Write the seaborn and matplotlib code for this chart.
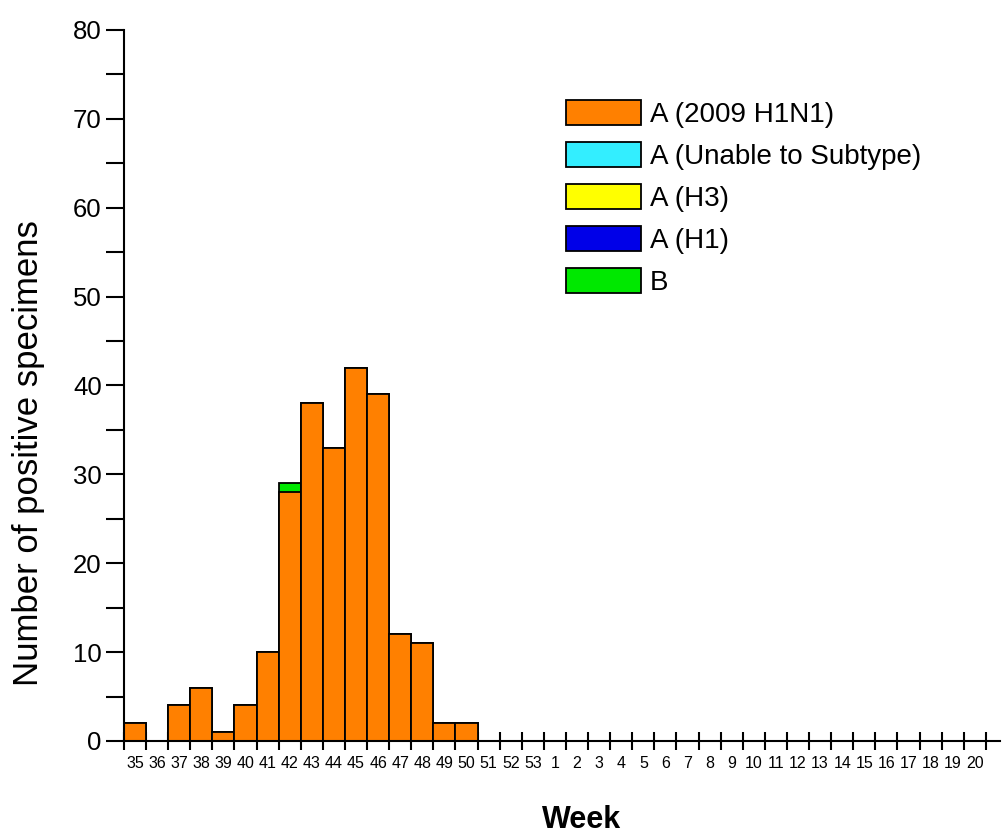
import numpy as np
import pandas as pd
import matplotlib.pyplot as plt
import seaborn as sns
from matplotlib.patches import Patch
from matplotlib.ticker import FixedLocator, MultipleLocator

# weekly counts of positive specimens, week 35 of 2009 to week 20 of 2010
weeks = [str(w) for w in range(35, 54)] + [str(w) for w in range(1, 21)]
h1n1 = [2, 0, 4, 6, 1, 4, 10, 28, 38, 33, 42, 39, 12, 11, 2, 2] + [0] * 23
unsubtyped = [0] * 39
h3 = [0] * 39
h1 = [0] * 39
flu_b = [0] * 7 + [1] + [0] * 31

legend_labels = ["A (2009 H1N1)", "A (Unable to Subtype)", "A (H3)", "A (H1)", "B"]
legend_colors = ["#FF8000", "#33EEFF", "#FFFF00", "#0000E8", "#00E800"]

data = pd.DataFrame({"Week": weeks, "H1N1": h1n1, "Unable": unsubtyped,
                     "H3": h3, "H1": h1, "B": flu_b})
data["Total"] = data[["H1N1", "Unable", "H3", "H1", "B"]].sum(axis=1)

sns.set_style("ticks")
plt.rcParams['font.family'] = ['Liberation Sans', 'DejaVu Sans']
plt.rcParams['text.color'] = 'black'
plt.rcParams['axes.labelcolor'] = 'black'
plt.rcParams['xtick.color'] = 'black'
plt.rcParams['ytick.color'] = 'black'
plt.rcParams['axes.edgecolor'] = 'black'

fig = plt.figure(figsize=(10.02, 8.39), dpi=100)
ax = fig.add_axes([124 / 1002, 1 - 741 / 839, 876 / 1002, 711 / 839])

# stacked look: draw the total first, then the H1N1 part over it
sns.barplot(data=data, x="Week", y="Total", color=legend_colors[4], width=1,
            edgecolor="black", linewidth=1.3, saturation=1, ax=ax)
sns.barplot(data=data, x="Week", y="H1N1", color=legend_colors[0], width=1,
            edgecolor="black", linewidth=1.3, saturation=1, ax=ax)

ax.set_xlim(-0.5, 39.14)
ax.set_ylim(0, 80)
ax.yaxis.set_major_locator(MultipleLocator(10))
ax.yaxis.set_minor_locator(MultipleLocator(5))
ax.tick_params(axis="y", which="both", direction="out", length=13, width=1.5,
               labelsize=18.5, pad=3)

ax.xaxis.set_minor_locator(FixedLocator(np.arange(-0.5, 39, 1)))
ax.tick_params(axis="x", which="major", length=0, labelsize=11.5, pad=11)
ax.tick_params(axis="x", which="minor", direction="inout", length=13, width=1.5)

for side in ["left", "bottom"]:
    ax.spines[side].set_linewidth(1.5)
sns.despine(ax=ax)

ax.set_ylabel("Number of positive specimens", fontsize=25)
ax.yaxis.set_label_coords(-0.090, 0.405)
ax.set_xlabel("Week", fontsize=22, fontweight="bold", va="center")
ax.xaxis.set_label_coords(0.522, -0.111)

handles = [Patch(facecolor=c, edgecolor="black", linewidth=1.3) for c in legend_colors]
ax.legend(handles, legend_labels, loc="upper left", bbox_to_anchor=(0.505, 0.901),
          frameon=False, fontsize=20, handlelength=2.7, handleheight=1.0,
          labelspacing=0.5, handletextpad=0.3, borderaxespad=0, borderpad=0)

fig.savefig("out.png", dpi=100)
